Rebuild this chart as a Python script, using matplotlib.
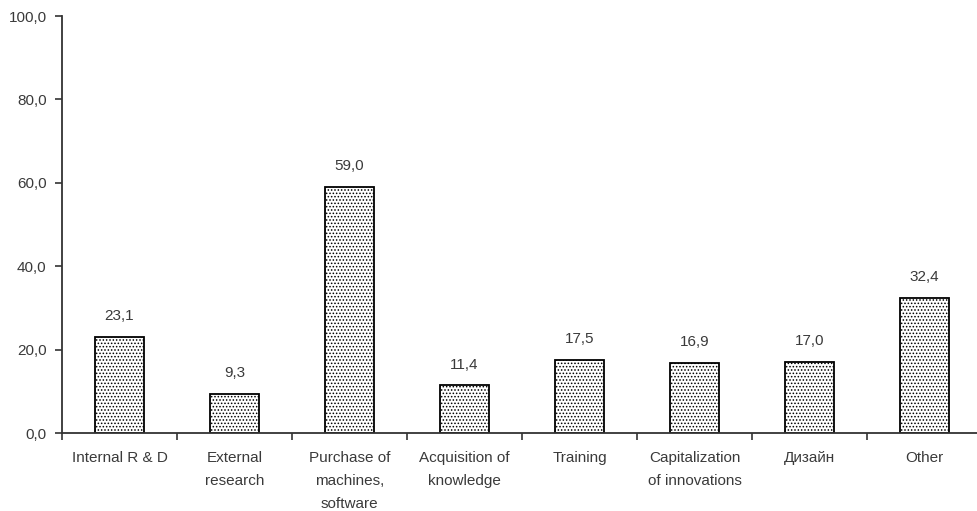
import matplotlib.pyplot as plt
import matplotlib as mpl
import numpy as np

plt.rcParams['font.family'] = ['Liberation Sans', 'DejaVu Sans']
plt.rcParams['font.size'] = 11
plt.rcParams['hatch.color'] = '#777777'
plt.rcParams['hatch.linewidth'] = 0.7

categories = ['Internal R & D', 'External\nresearch', 'Purchase of\nmachines,\nsoftware',
              'Acquisition of\nknowledge', 'Training', 'Capitalization\nof innovations',
              'Дизайн', 'Other']
values = [23.1, 9.3, 59.0, 11.4, 17.5, 16.9, 17.0, 32.4]
y_ticks = [0, 20, 40, 60, 80, 100]

text_col = '#3a3a3a'

fig = plt.figure(figsize=(9.77, 5.11), dpi=100)
ax = fig.add_axes([62/977, 78/511, 920/977, 417/511])

x = np.arange(len(categories))
bars = ax.bar(x, values, width=0.42, color='white', edgecolor='black',
              linewidth=1.3, hatch='.....')

for xi, v in zip(x, values):
    ax.annotate(f"{v:.1f}".replace('.', ','), (xi, v), xytext=(0, 10),
                textcoords='offset points', ha='center', va='bottom',
                color=text_col, fontsize=11)

ax.set_xlim(-0.5, len(categories) - 0.5)
ax.set_ylim(0, 100)
ax.set_yticks(y_ticks)
ax.set_yticklabels([f"{t:.1f}".replace('.', ',') for t in y_ticks], color=text_col)

ax.set_xticks(x)
ax.set_xticklabels(categories, color=text_col, linespacing=1.8, va='top')
ax.tick_params(axis='x', length=0, pad=13)
ax.set_xticks(np.arange(len(categories) + 1) - 0.5, minor=True)
ax.tick_params(axis='x', which='minor', length=5, width=1.2, color='#333333')
ax.tick_params(axis='y', length=5, width=1.2, color='#333333', pad=6)

for s in ['top', 'right']:
    ax.spines[s].set_visible(False)
for s in ['left', 'bottom']:
    ax.spines[s].set_linewidth(1.3)
    ax.spines[s].set_color('#333333')

fig.savefig('out.png', dpi=100)
